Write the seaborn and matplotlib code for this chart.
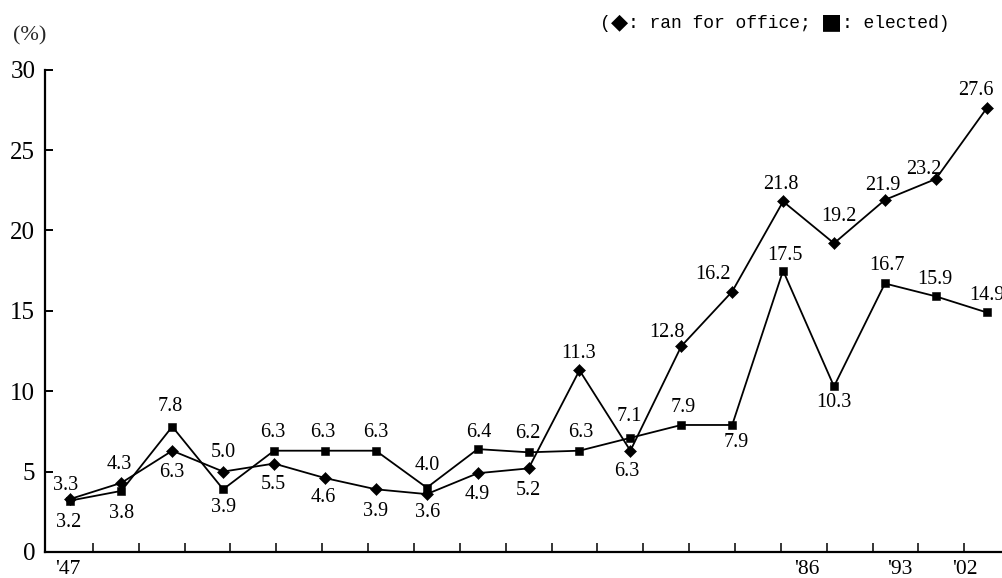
import numpy as np
import pandas as pd
import matplotlib
matplotlib.use("Agg")
import matplotlib.pyplot as plt
from matplotlib.offsetbox import TextArea, HPacker, AnchoredOffsetbox
import seaborn as sns

# Share of women (%) among candidates and among those elected, election by election
ran_for_office = [3.3, 4.3, 6.3, 5.0, 5.5, 4.6, 3.9, 3.6, 4.9, 5.2, 11.3,
                  6.3, 12.8, 16.2, 21.8, 19.2, 21.9, 23.2, 27.6]
elected = [3.2, 3.8, 7.8, 3.9, 6.3, 6.3, 6.3, 4.0, 6.4, 6.2, 6.3,
           7.1, 7.9, 7.9, 17.5, 10.3, 16.7, 15.9, 14.9]
year_labels = ["'47", "'86", "'93", "'02"]
y_ticks = [0, 5, 10, 15, 20, 25, 30]

# Layout: where the year labels sit along the x axis (in election-index units)
year_label_pos = [-0.05, 14.47, 16.30, 17.58]
# Plain tick marks along the bottom axis
tick_marks = [-0.46 + 0.901 * k for k in range(1, 21)]

# Value-label offsets from each marker, in pixels (dx, dy; positive dy = up)
ran_offsets = [(-5, 13), (-2, 18), (-1, -22), (0, 19), (-1, -21), (-2, -19),
               (0, -22), (1, -18), (0, -21), (0, -22), (-1, 17), (-4, -21),
               (-14, 14), (-19, 17), (-2, 17), (5, 27), (-2, 14), (-12, 9),
               (-11, 18)]
elected_offsets = [(-2, -22), (0, -23), (-2, 20), (0, -18), (-1, 18), (-2, 18),
                   (0, 18), (0, 22), (1, 17), (-1, 19), (1, 18), (-1, 21),
                   (2, 17), (4, -18), (2, 15), (0, -16), (2, 18), (-1, 17),
                   (0, 17)]

df = pd.DataFrame({
    "election": np.arange(len(ran_for_office)),
    "ran": ran_for_office,
    "elected": elected,
})

sns.set_style("white")
plt.rcParams["font.family"] = ["Liberation Serif", "DejaVu Sans"]

fig = plt.figure(figsize=(10.03, 5.78), dpi=100)
ax = fig.add_axes([45 / 1003, 26 / 578, 958 / 1003, (552 - 60.8) / 578])

line_kw = dict(color="black", linewidth=1.3, markeredgewidth=0.4,
               markeredgecolor="black", markerfacecolor="black")
sns.lineplot(data=df, x="election", y="ran", marker="D", markersize=6.0,
             ax=ax, **line_kw)
sns.lineplot(data=df, x="election", y="elected", marker="s", markersize=6.3,
             ax=ax, **line_kw)

label_font = dict(family=["Liberation Serif", "DejaVu Sans"], fontsize=14.5,
                  ha="center", va="center", color="black")
for i, (v, (dx, dy)) in enumerate(zip(ran_for_office, ran_offsets)):
    ax.annotate(f"{v:.1f}", (i, v), xytext=(dx, dy), textcoords="offset pixels",
                annotation_clip=False, **label_font)
for i, (v, (dx, dy)) in enumerate(zip(elected, elected_offsets)):
    ax.annotate(f"{v:.1f}", (i, v), xytext=(dx, dy), textcoords="offset pixels",
                annotation_clip=False, **label_font)

ax.set_xlim(-0.5, 18.32)
ax.set_ylim(0, 30.55)
ax.set_xlabel("")
ax.set_ylabel("")

# Axes frame: only left and bottom spines
for side in ("top", "right"):
    ax.spines[side].set_visible(False)
for side in ("left", "bottom"):
    ax.spines[side].set_linewidth(1.6)
    ax.spines[side].set_color("black")
ax.spines["left"].set_bounds(0, 30)

ax.set_yticks(y_ticks)
ax.set_yticklabels([str(t) for t in y_ticks], fontsize=18)
ax.tick_params(axis="y", direction="in", length=6, width=1.4, pad=7,
               colors="black", left=True)

ax.xaxis.remove_overlapping_locs = False
ax.set_xticks(year_label_pos)
ax.set_xticklabels(year_labels, fontsize=15.5)
ax.set_xticks(tick_marks, minor=True)
ax.tick_params(axis="x", which="major", length=0, pad=6, colors="black")
ax.tick_params(axis="x", which="minor", direction="in", length=6.5, width=1.1,
               colors="black", bottom=True)

fig.text(30 / 1003, 1 - 36 / 578, "(%)", ha="center", va="center",
         fontsize=16, family=["Liberation Serif", "DejaVu Sans"])

# Key line: text in a monospaced face, the two marker symbols drawn larger
mono = dict(family=["Liberation Mono", "DejaVu Sans"], fontsize=13, color="black")
sym = dict(family=["DejaVu Sans"], fontsize=16, color="black")
key_parts = [("(", mono), ("◆", sym), (": ran for office; ", mono),
             ("■", sym), (": elected)", mono)]
key_row = HPacker(children=[TextArea(s, textprops=p) for s, p in key_parts],
                  align="baseline", pad=0, sep=0)
fig.add_artist(AnchoredOffsetbox(loc="center left", child=key_row, pad=0,
                                 borderpad=0, frameon=False,
                                 bbox_to_anchor=(600 / 1003, 1 - 22 / 578),
                                 bbox_transform=fig.transFigure))

fig.savefig("out.png", dpi=100)
